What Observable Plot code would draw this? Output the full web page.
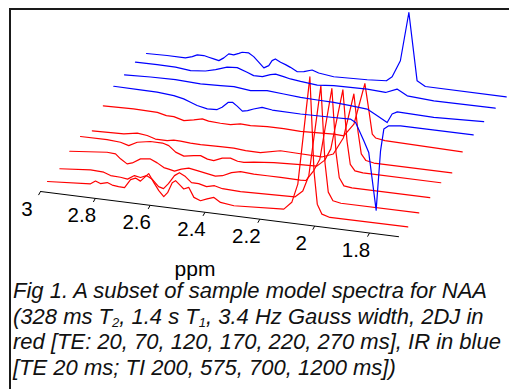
<!DOCTYPE html>
<html><head><meta charset="utf-8">
<script src="https://cdn.jsdelivr.net/npm/d3@7"></script>
<script src="https://cdn.jsdelivr.net/npm/@observablehq/plot@0.6"></script>
<style>
html,body{margin:0;padding:0;background:#fff;width:509px;height:389px;overflow:hidden;position:relative;}
#frame{position:absolute;left:9px;top:8px;width:540px;height:420px;border-top:2px solid #1a1a1a;border-left:2px solid #1a1a1a;}
#chart{position:absolute;left:0;top:0;}
#caption{position:absolute;left:13px;top:278px;font:italic 22px "Liberation Sans",Arial,sans-serif;line-height:25.5px;color:#111;white-space:nowrap;}
#caption sub{font-size:13px;vertical-align:-3px;line-height:0;}
</style></head><body>
<div id="frame"></div>
<div id="chart"></div>
<div id="caption">Fig 1. A subset of sample model spectra for NAA<br>(328 ms T<sub>2</sub>, 1.4 s T<sub>1</sub>, 3.4 Hz Gauss width, 2DJ in<br>red [TE: 20, 70, 120, 170, 220, 270 ms], IR in blue<br>[TE 20 ms; TI 200, 575, 700, 1200 ms])</div>
<script>
// ---- data: [ppm, intensity] pairs ----
const ppmTicks = [3, 2.8, 2.6, 2.4, 2.2, 2, 1.8];
const tickLabels = ["3", "2.8", "2.6", "2.4", "2.2", "2", "1.8"];
const axisRange = [3, 1.694];
const seriesNames = ["2DJ TE 20", "2DJ TE 70", "2DJ TE 120", "2DJ TE 170", "2DJ TE 220", "2DJ TE 270", "IR TI 200", "IR TI 575", "IR TI 700", "IR TI 1200"];
const seriesColors = ["#ff0000", "#ff0000", "#ff0000", "#ff0000", "#ff0000", "#ff0000", "#0000ff", "#0000ff", "#0000ff", "#0000ff"];

const te20 = [[3.000,-1.0],[2.843,2.1],[2.825,5.5],[2.807,3.6],[2.782,5.5],[2.764,3.6],[2.741,2.9],[2.719,2.6],[2.697,11.4],[2.679,13.5],[2.661,11.1],[2.631,19.7],[2.612,11.3],[2.594,3.9],[2.576,-1.5],[2.562,3.0],[2.545,13.6],[2.533,16.0],[2.515,11.6],[2.503,8.7],[2.485,11.0],[2.466,1.6],[2.442,-0.9],[2.418,1.7],[2.393,4.1],[2.369,-0.1],[2.320,-1.7],[2.138,1.2],[2.109,9],[2.087,28],[2.043,136.8],[2.028,43],[2.016,10.4],[1.999,1.0],[1.970,-1.3],[1.686,-1.0]];
const te70 = [[2.995,-2.5],[2.883,0.3],[2.835,-0.4],[2.810,-2.9],[2.774,-3.3],[2.748,-4.3],[2.723,0.1],[2.701,-1.1],[2.679,1.6],[2.657,-1.6],[2.635,-7.9],[2.617,-9.3],[2.599,-3.6],[2.577,5.1],[2.559,8.7],[2.537,5.5],[2.515,0.2],[2.489,0.1],[2.460,-1.9],[2.431,0.1],[2.402,-1.9],[2.336,-2.6],[2.138,-1],[2.109,6],[2.087,22],[2.043,113.4],[2.028,37],[2.016,8],[1.999,0],[1.970,-1.5],[1.686,-1.4]];
const te120 = [[2.999,0.5],[2.863,4.2],[2.832,3.6],[2.814,-0.7],[2.790,-4.9],[2.771,-3.3],[2.741,1.8],[2.705,3.0],[2.680,-0.1],[2.656,-4.0],[2.638,-4.9],[2.617,-6.2],[2.592,-3.3],[2.565,-1.4],[2.534,-2.8],[2.498,-4.6],[2.468,-6.0],[2.442,-4.7],[2.409,-0.5],[2.376,1.6],[2.328,0.9],[2.279,0.9],[2.230,0.9],[2.158,0.8],[2.138,1],[2.109,12],[2.087,24],[2.043,96.3],[2.028,33],[2.016,8],[1.999,0.5],[1.970,-0.5],[1.686,-0.5]];
const te170 = [[3.000,0.8],[2.903,1.1],[2.854,0.1],[2.824,-2.2],[2.793,2.2],[2.745,4.6],[2.701,4.6],[2.678,2.8],[2.653,-2.8],[2.623,-5.8],[2.587,-4.0],[2.562,-3.2],[2.537,-5.8],[2.514,-6.5],[2.483,-3.0],[2.453,-1.9],[2.427,-4.1],[2.404,-4.5],[2.368,-3],[2.295,-1],[2.198,0.5],[2.138,1],[2.109,8],[2.087,20],[2.043,80.6],[2.028,30],[2.016,7],[1.999,1],[1.970,0],[1.686,0]];
const te220 = [[2.997,-7.8],[2.882,-6.9],[2.833,-4.4],[2.797,-5.6],[2.767,-8.1],[2.724,-8.1],[2.700,-6.8],[2.675,-7.0],[2.639,-7.7],[2.602,-8.0],[2.566,-7.7],[2.530,-7.5],[2.481,-7.3],[2.438,-8.3],[2.384,-8.5],[2.311,-4.0],[2.238,-4.5],[2.160,-5],[2.118,-0.6],[2.081,17],[2.043,62],[2.028,25],[2.016,3],[1.999,-3],[1.970,-4.5],[1.686,-4.6]];
const te270 = [[2.997,2.8],[2.887,3.6],[2.800,3.1],[2.767,1.0],[2.740,0.9],[2.703,-1.8],[2.667,0.1],[2.636,2.2],[2.613,0.8],[2.570,0.1],[2.533,0],[2.497,2.0],[2.460,1.5],[2.399,2.6],[2.339,2.7],[2.278,2.1],[2.156,3.6],[2.120,3],[2.083,16],[2.043,58],[2.028,31],[2.016,8.4],[2.004,5],[1.970,3.5],[1.688,2]];
const ti200 = [[2.999,7.9],[2.902,7.7],[2.841,7.4],[2.780,6.1],[2.744,4.1],[2.719,1.5],[2.695,-0.9],[2.658,-3.0],[2.622,-2.4],[2.604,0.5],[2.581,6.3],[2.566,6.8],[2.549,3.6],[2.530,-0.8],[2.511,0.4],[2.489,2.8],[2.458,5.5],[2.421,4.1],[2.318,3.7],[2.197,4.4],[2.136,4.9],[2.117,2.2],[2.087,-15.1],[2.069,-26.2],[2.042,-82.9],[2.026,-23.0],[2.014,-0.9],[1.996,3.0],[1.953,4.5],[1.688,4.6]];
const ti575 = [[3.000,4.9],[2.905,6.0],[2.814,6.6],[2.723,5.4],[2.650,6.2],[2.601,6.9],[2.540,5.0],[2.480,7.0],[2.419,5.8],[2.358,4.5],[2.297,4.0],[2.237,3.7],[2.176,2.5],[2.115,1.2],[2.078,-4.2],[2.042,-9.7],[2.024,-0.6],[2.005,2.3],[1.872,1.4],[1.690,3.4]];
const ti700 = [[3.000,3.1],[2.921,3.5],[2.854,3.3],[2.799,1.7],[2.745,3.1],[2.708,5.8],[2.666,9.8],[2.629,10.5],[2.593,7.1],[2.569,4.6],[2.537,4.7],[2.508,7.7],[2.489,8.8],[2.460,7.3],[2.435,5.9],[2.398,4.7],[2.337,3.2],[2.277,4.6],[2.155,5.5],[2.088,4.4],[2.046,9.2],[2.009,3.8],[1.912,2.1],[1.688,2.5]];
const ti1200 = [[3.000,-2.6],[2.925,-2.0],[2.858,-2.0],[2.833,0.1],[2.815,2.4],[2.791,2.6],[2.773,1.5],[2.755,0.5],[2.736,-0.6],[2.718,2.8],[2.700,7.4],[2.682,7.0],[2.663,9.2],[2.651,10.7],[2.627,10.9],[2.609,7.8],[2.590,2.7],[2.572,-2.2],[2.554,0.7],[2.542,6.1],[2.530,8.2],[2.511,5.5],[2.493,3.8],[2.475,1.7],[2.450,-1.8],[2.426,-0.9],[2.396,1.8],[2.372,-0.4],[2.317,-2.2],[2.195,-1.0],[2.125,0.4],[2.104,5.1],[2.074,22.2],[2.043,71.5],[2.013,4.2],[1.983,-0.4],[1.688,-0.6]];

const spectra = [te20, te70, te120, te170, te220, te270, ti200, ti575, ti700, ti1200];

// ---- oblique "waterfall" projection (in scale units) ----
const pxPerPpm = 329 / 1.2;          // matches the x scale below
const tilt = 34.6;                   // baseline drop per ppm
const depthX = 11, depthY = 14.4;    // offset between successive spectra
const frontX = 7, frontY = 11;       // offset of the front spectrum from the axis
const px = (ppm, k) => ppm - (frontX + depthX * k) / pxPerPpm;
const py = (ppm, v, k) => frontY + depthY * k - tilt * (3 - ppm) + v;
const axisY = ppm => -tilt * (3 - ppm);

const font = '"Liberation Sans", Arial, Helvetica, sans-serif';

const marks = [
  Plot.line(axisRange, {x: d => d, y: d => axisY(d), stroke: "#000", strokeWidth: 1}),
  Plot.link(ppmTicks, {x1: d => d, y1: d => axisY(d), x2: d => d + 2 / pxPerPpm, y2: d => axisY(d) - 3.6, stroke: "#000", strokeWidth: 1}),
  Plot.text(ppmTicks, {x: d => d + 13.5 / pxPerPpm, y: d => axisY(d) - 17.5, text: (d, i) => tickLabels[i], fontSize: 20.5, fill: "#000"}),
  Plot.text(["ppm"], {frameAnchor: "bottom", dx: -60, dy: -5, text: d => d, fontSize: 21, fill: "#000"}),
  ...spectra.map((s, k) => Plot.line(s, {
    x: d => px(d[0], k),
    y: d => py(d[0], d[1], k),
    stroke: seriesColors[k],
    strokeWidth: 1.2,
    title: () => seriesNames[k]
  }))
];

const chart = Plot.plot({
  width: 509,
  height: 280,
  margin: 0,
  x: {domain: [3, 1.8], range: [40, 369], axis: null},
  y: {domain: [0, 191], range: [191, 0], axis: null},
  style: {background: "transparent", fontFamily: font, overflow: "visible"},
  marks
});
document.getElementById("chart").appendChild(chart);
</script>
</body></html>
